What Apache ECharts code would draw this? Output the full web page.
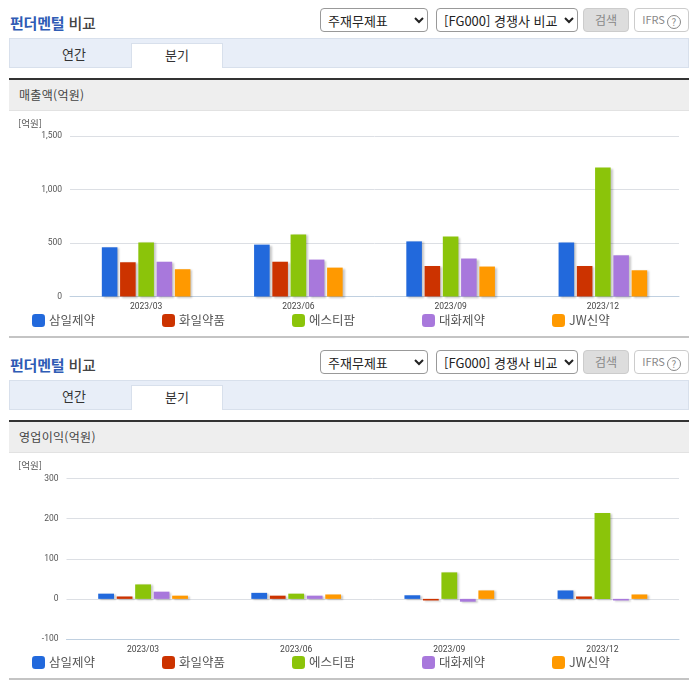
<!DOCTYPE html>
<html lang="ko"><head><meta charset="utf-8">
<script src="https://cdn.jsdelivr.net/npm/echarts@6/dist/echarts.min.js"></script>
<style>
html,body{margin:0;padding:0;background:#fff;width:696px;height:684px;overflow:hidden;font-family:"Noto Sans CJK KR",sans-serif;}
.sec{position:absolute;left:0;width:696px;height:342px;}
.abs{position:absolute;box-sizing:border-box;}
.title{left:10px;top:13px;font-size:15px;font-weight:500;line-height:20px;color:#444;letter-spacing:-.2px;}
.title b{color:#2f5cb5;font-weight:700;}
select{position:absolute;box-sizing:border-box;top:8px;height:24px;background:#fff;border:1px solid #999;border-radius:4px;font:13px "Noto Sans CJK KR",sans-serif;color:#222;padding-left:3px;}
.btn{top:8px;height:24px;border-radius:4px;text-align:center;font-size:12px;line-height:21px;color:#888;}
.q{display:inline-block;box-sizing:border-box;width:14px;height:14px;border:1px solid #888;border-radius:50%;font-size:10px;line-height:12px;margin-left:2px;vertical-align:-2px;}
.tabs{left:9px;top:38px;width:680px;height:30px;background:#e8eef8;border:1px solid #d8e0ec;}
.tab{top:43px;height:25px;width:92px;text-align:center;font-size:13px;line-height:22px;color:#333;}
.on{left:131px;background:#fff;border:1px solid #d8e0ec;border-bottom:none;}
.hd{left:9px;top:78px;width:680px;height:33px;background:#eee;border-top:2px solid #333;border-bottom:1px solid #e2e2e2;font-size:12px;line-height:30px;padding-left:10px;color:#444;letter-spacing:.3px;}
.foot{left:9px;top:336px;width:680px;height:2px;background:#c4c4c4;}
.chart{position:absolute;left:0;top:110px;width:696px;height:226px;}
</style></head><body>
<div id="root"></div>
<script>
const categories = ['2023/03','2023/06','2023/09','2023/12'];
const seriesNames = ['삼일제약','화일약품','에스티팜','대화제약','JW신약'];
const seriesColors = ['#2269dc','#cc3300','#8bc40a','#a878dc','#ff9900'];
const legendLefts = [32,162,292,422,552];

const salesSamil = [460,485,515,505];
const salesHwail = [320,325,285,285];
const salesST = [505,580,560,1205];
const salesDaehwa = [325,345,355,385];
const salesJW = [255,270,280,245];

const profitSamil = [13,15,9,21];
const profitHwail = [6,8,-4,6];
const profitST = [36,13,66,214];
const profitDaehwa = [18,8,-7,-4];
const profitJW = [8,11,21,11];

const sections = [
  {top:0, head:'매출액(억원)', gridLeft:70, gridTop:26, gridH:160.5, min:0, max:1500, step:500, namePad:28,
   values:[salesSamil,salesHwail,salesST,salesDaehwa,salesJW], barW:15.6},
  {top:342, head:'영업이익(억원)', gridLeft:66.5, gridTop:26.5, gridH:160.5, min:-100, max:300, step:100, namePad:24.5,
   values:[profitSamil,profitHwail,profitST,profitDaehwa,profitJW], barW:15.8}
];

const root = document.getElementById('root');
sections.forEach(s=>{
  const d = document.createElement('div');
  d.className='sec'; d.style.top=s.top+'px';
  d.innerHTML = `
   <div class="abs title"><b>펀더멘털</b> 비교</div>
   <select style="left:320px;width:108px"><option>주재무제표</option></select>
   <select style="left:436px;width:142px"><option>[FG000] 경쟁사 비교</option></select>
   <div class="abs btn" style="left:583px;width:46px;background:#ddd;border:1px solid #ccc">검색</div>
   <div class="abs btn" style="left:634px;width:55px;background:#fff;border:1px solid #ccc;font-size:11px">IFRS<span class="q">?</span></div>
   <div class="abs tabs"></div>
   <div class="abs tab" style="left:28px">연간</div>
   <div class="abs tab on">분기</div>
   <div class="abs hd">${s.head}</div>
   <div class="abs foot"></div>
   <div class="chart"></div>`;
  root.appendChild(d);
  const chart = echarts.init(d.querySelector('.chart'),null,{renderer:'canvas'});
  chart.setOption({
    animation:false,
    textStyle:{fontFamily:'"Noto Sans CJK KR",sans-serif'},
    legend: seriesNames.map((n,i)=>({
      data:[n], left:legendLefts[i], top:204, padding:0, itemWidth:13, itemHeight:13, icon:'roundRect', itemGap:0,
      selectedMode:false, textStyle:{fontSize:12.5,color:'#555',padding:[0,0,0,-1]}
    })),
    grid:{left:s.gridLeft,right:17,top:s.gridTop,height:s.gridH,containLabel:false},
    xAxis:{type:'category',data:categories,
      axisLine:{onZero:false,lineStyle:{color:'#c0d0e0',width:1}},
      axisTick:{length:5,lineStyle:{color:'#c0d0e0'}},
      axisLabel:{fontSize:8.5,color:'#444',margin:6,fontFamily:'Roboto,sans-serif'}},
    yAxis:{type:'value',min:s.min,max:s.max,interval:s.step,
      name:'[억원]',nameLocation:'end',nameGap:8,
      nameTextStyle:{fontSize:9.5,color:'#555',align:'right',padding:[0,s.namePad,0,0]},
      axisLine:{show:false},axisTick:{show:false},
      splitLine:{lineStyle:{color:'#dcdfe4',width:1}},
      axisLabel:{fontSize:8.5,color:'#555',margin:8,fontFamily:'Roboto,sans-serif',
        formatter:v=>Number(v).toLocaleString('en-US')}},
    series: seriesNames.map((n,i)=>({
      name:n,type:'bar',data:s.values[i],barWidth:s.barW,barGap:'17%',
      itemStyle:{color:seriesColors[i],shadowColor:'rgba(0,0,0,.22)',shadowOffsetX:2,shadowOffsetY:1,shadowBlur:2}
    }))
  });
});
</script>
</body></html>
